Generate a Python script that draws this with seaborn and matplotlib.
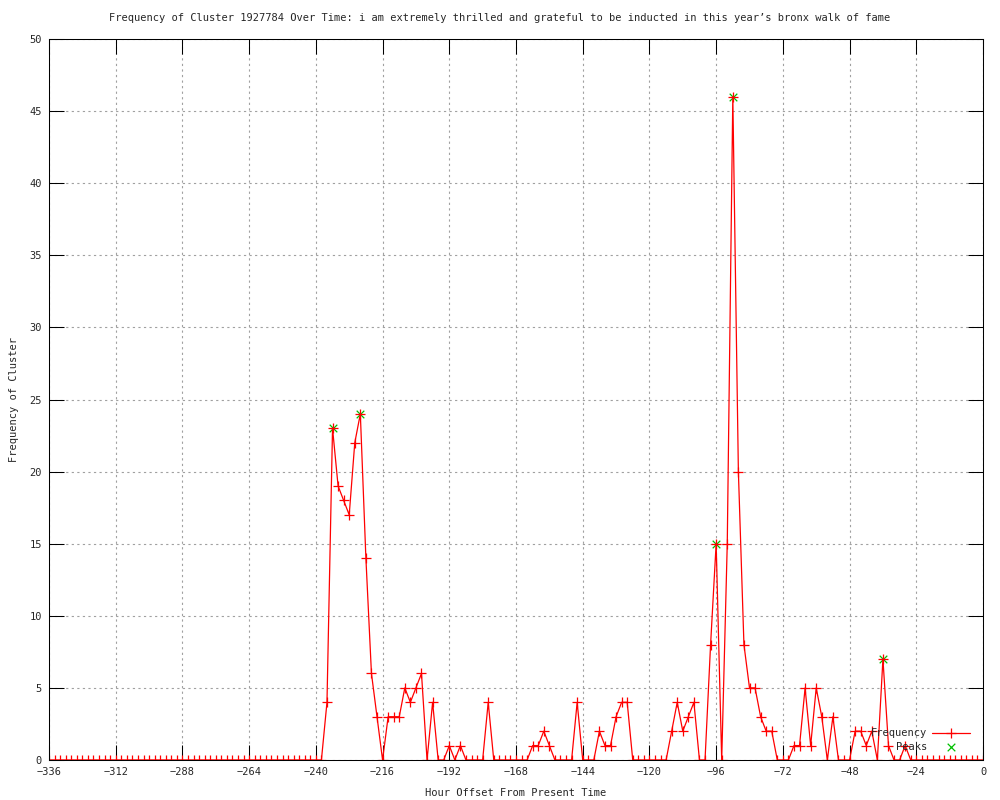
"""
Frequency of one cluster over the last two weeks, gnuplot-style look.
Hourly offsets every 2 h, peaks marked with green crosses.
"""

import matplotlib
matplotlib.use("Agg")
import matplotlib.pyplot as plt
import numpy as np
import pandas as pd
import seaborn as sns

TITLE = ("Frequency of Cluster 1927784 Over Time: i am extremely thrilled "
         "and grateful to be inducted in this year\u2019s bronx walk of fame")

# --- Data ---
# hour offsets -336 .. 0, one sample every 2 hours
hours = np.arange(-336, 1, 2)

frequency = (
    [0] * 50  # -336 .. -238
    + [4, 23, 19, 18, 17, 22, 24, 14, 6, 3]     # -236 .. -218
    + [0, 3, 3, 3, 5, 4, 5, 6, 0, 4]            # -216 .. -198
    + [0, 0, 1, 0, 1, 0, 0, 0, 0, 4]            # -196 .. -178
    + [0, 0, 0, 0, 0, 0, 0, 1, 1, 2]            # -176 .. -158
    + [1, 0, 0, 0, 0, 4, 0, 0, 0, 2]            # -156 .. -138
    + [1, 1, 3, 4, 4, 0, 0, 0, 0, 0]            # -136 .. -118
    + [0, 0, 2, 4, 2, 3, 4, 0, 0, 8]            # -116 .. -98
    + [15, 0, 15, 46, 20, 8, 5, 5, 3, 2]        # -96 .. -78
    + [2, 0, 0, 0, 1, 1, 5, 1, 5, 3]            # -76 .. -58
    + [0, 3, 0, 0, 0, 2, 2, 1, 2, 0]            # -56 .. -38
    + [7, 1, 0, 0, 1, 0, 0, 0, 0, 0]            # -36 .. -18
    + [0, 0, 0, 0, 0, 0, 0, 0, 0]               # -16 .. 0
)

peak_hours = [-234, -224, -96, -90, -36]
peak_values = [23, 24, 15, 46, 7]

x_ticks = list(range(-336, 1, 24))
y_ticks = list(range(0, 51, 5))

FONT = "DejaVu Sans Mono"


def main():
    sns.set_theme(style="white", rc={
        "axes.edgecolor": "black",
        "axes.linewidth": 0.75,
        "xtick.direction": "in",
        "ytick.direction": "in",
    })
    plt.rcParams["font.family"] = [FONT, "DejaVu Sans"]

    df = pd.DataFrame({"hour": hours, "freq": frequency})
    peaks = pd.DataFrame({"hour": peak_hours, "freq": peak_values})

    fig = plt.figure(figsize=(10, 8), dpi=100)
    ax = fig.add_axes([0.049, 0.05, 0.934, 0.90125])

    sns.lineplot(data=df, x="hour", y="freq", ax=ax, color="red",
                 linewidth=0.9, marker="+", markersize=7,
                 markeredgecolor="red", markeredgewidth=0.9,
                 label="Frequency", zorder=3)
    sns.scatterplot(data=peaks, x="hour", y="freq", ax=ax, color="#00c000",
                    marker="x", s=30, linewidth=0.9, label="    Peaks",
                    zorder=2)

    ax.set_xlim(-336, 0)
    ax.set_ylim(0, 50)
    ax.set_xticks(x_ticks)
    ax.set_yticks(y_ticks)
    ax.set_xticklabels([f"\u2212{abs(t)}" if t < 0 else str(t) for t in x_ticks])
    ax.tick_params(axis="both", which="major", length=11, width=0.75,
                   color="black", labelsize=7.5, pad=5,
                   top=True, right=True, bottom=True, left=True)

    ax.grid(True, color="#a0a0a0", linestyle=(0, (2, 3)), linewidth=0.8)
    ax.set_axisbelow(True)
    for side in ax.spines.values():
        side.set_visible(True)
        side.set_color("black")
        side.set_zorder(5)

    ax.set_xlabel("Hour Offset From Present Time", fontsize=7.5)
    ax.xaxis.label.set_va("center")
    ax.xaxis.set_label_coords(0.5, -0.0458)
    ax.set_ylabel("Frequency of Cluster", fontsize=7.5)
    ax.yaxis.label.set_va("center")
    ax.yaxis.set_label_coords(-0.0375, 0.5)

    fig.text(0.5, 1 - 18 / 800, TITLE, ha="center", va="center", fontsize=7.5)

    leg = ax.legend(loc="lower right", bbox_to_anchor=(0.986, 0.011),
                    frameon=False, markerfirst=False, borderpad=0,
                    borderaxespad=0, handlelength=3.6, handletextpad=0.5,
                    labelspacing=0.35, fontsize=7.5, numpoints=1,
                    scatterpoints=1)
    leg.set_zorder(6)

    fig.savefig("out.png", dpi=100)
    plt.close(fig)


if __name__ == "__main__":
    main()
